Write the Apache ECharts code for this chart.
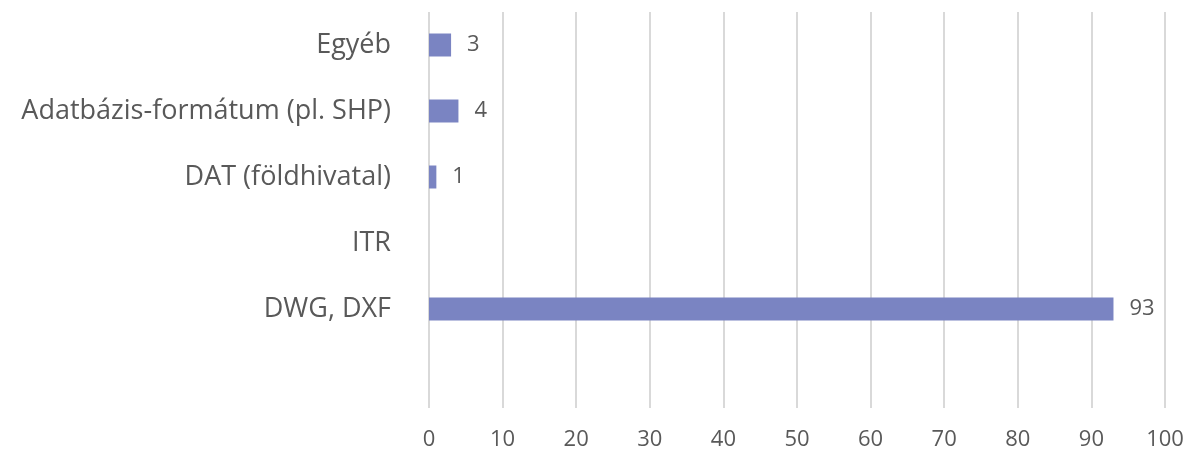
<!DOCTYPE html>
<html>
<head>
<meta charset="utf-8">
<script src="https://cdn.jsdelivr.net/npm/echarts@6/dist/echarts.min.js"></script>
<style>
  html, body { margin: 0; padding: 0; background: #fff; }
  #chart { width: 1188px; height: 456px; }
</style>
</head>
<body>
<div id="chart"></div>
<script>
const categories = ['', 'DWG, DXF', 'ITR', 'DAT (földhivatal)', 'Adatbázis-formátum (pl. SHP)', 'Egyéb']
const values = [null, 93, null, 1, 4, 3]
const xTicks = { min: 0, max: 100, interval: 10 }

const chart = echarts.init(document.getElementById('chart'))
const font = '"Open Sans", sans-serif'

const option = {
  animation: false,
  grid: {
    left: 429,
    right: 23,
    top: 12,
    bottom: 48
  },
  xAxis: {
    type: 'value',
    min: xTicks.min,
    max: xTicks.max,
    interval: xTicks.interval,
    axisLine: { show: false },
    axisTick: { show: false },
    axisLabel: {
      color: '#595959',
      fontSize: 22,
      fontFamily: font,
      margin: 21
    },
    splitLine: {
      lineStyle: { color: '#d9d9d9', width: 2 }
    }
  },
  yAxis: {
    type: 'category',
    data: categories,
    axisLine: { show: false },
    axisTick: { show: false },
    axisLabel: {
      color: '#595959',
      fontSize: 27,
      fontFamily: font,
      margin: 38,
      padding: [3, 0, 0, 0]
    }
  },
  series: [{
    type: 'bar',
    data: values,
    barWidth: 23,
    itemStyle: { color: '#7a84c2' },
    label: {
      show: true,
      position: 'right',
      distance: 16,
      color: '#595959',
      fontSize: 22,
      fontFamily: font
    }
  }]
}

chart.setOption(option)
</script>
</body>
</html>
